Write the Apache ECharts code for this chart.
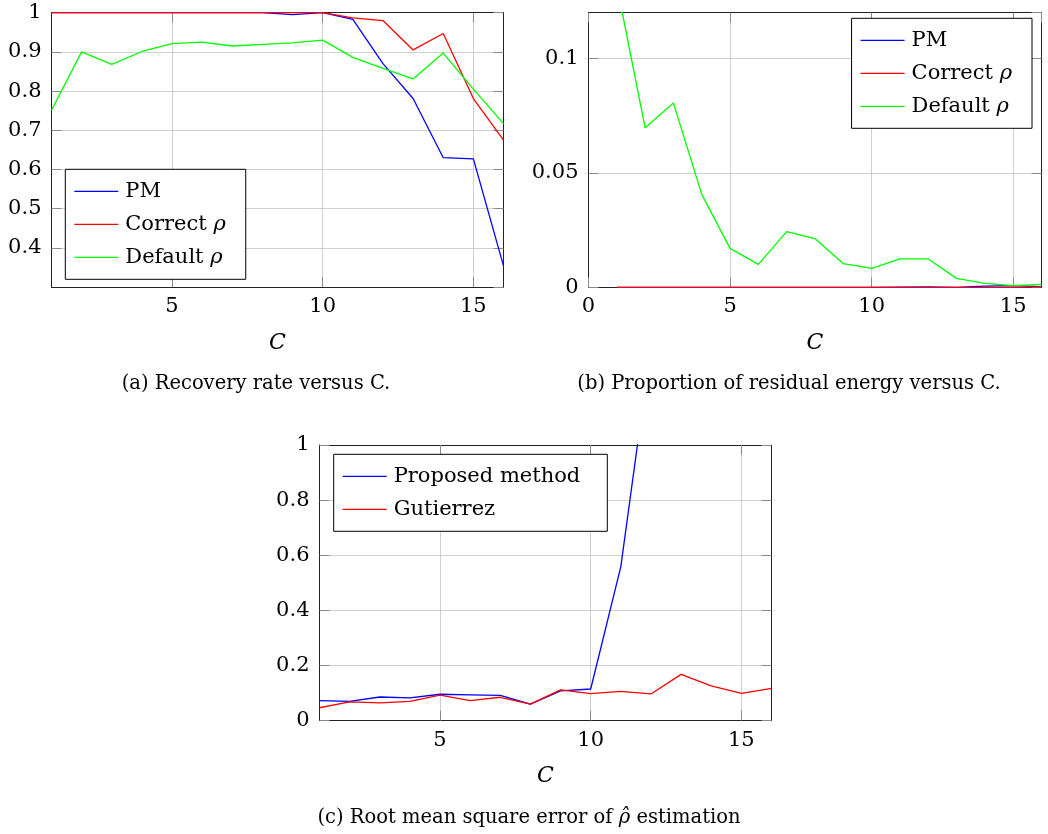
<!DOCTYPE html>
<html>
<head>
<meta charset="utf-8">
<style>
html,body{margin:0;padding:0;background:#fff;}
#main{width:1048px;height:834px;}
</style>
<script src="https://cdn.jsdelivr.net/npm/echarts@6/dist/echarts.min.js"></script>
</head>
<body>
<div id="main"></div>
<script>
// ---------- data ----------
const C = [1, 2, 3, 4, 5, 6, 7, 8, 9, 10, 11, 12, 13, 14, 15, 16];

// (a) Recovery rate versus C
const recPM      = [1, 1, 1, 1, 1, 1, 1, 1, 0.995, 1, 0.983, 0.87, 0.781, 0.630, 0.627, 0.354];
const recCorrect = [1, 1, 1, 1, 1, 1, 1, 1, 1, 1, 0.987, 0.980, 0.905, 0.947, 0.781, 0.675];
const recDefault = [0.751, 0.900, 0.868, 0.901, 0.921, 0.925, 0.915, 0.919, 0.923, 0.930, 0.886, 0.858, 0.831, 0.897, 0.805, 0.717];

// (b) Proportion of residual energy versus C
const resPM      = [0, 0, 0, 0, 0, 0, 0, 0, 0, 0, 0.0001, 0.0002, 0, 0.0005, 0.0007, 0.0003];
const resCorrect = [0, 0, 0, 0, 0, 0, 0, 0, 0, 0, 0, 0, 0, 0, 0, 0.0002];
const resDefault = [0.132, 0.0697, 0.0805, 0.0406, 0.0170, 0.0100, 0.0243, 0.0213, 0.0103, 0.0083, 0.0124, 0.0124, 0.0039, 0.0017, 0.0007, 0.0013];

// (c) RMSE of rho-hat estimation
const rmseProposed  = [0.073, 0.070, 0.086, 0.083, 0.096, 0.094, 0.092, 0.060, 0.108, 0.115, 0.559, 1.36];
const rmseGutierrez = [0.047, 0.068, 0.065, 0.070, 0.093, 0.073, 0.085, 0.060, 0.112, 0.098, 0.106, 0.097, 0.168, 0.126, 0.099, 0.117];

const xTicksA = [5, 10, 15];
const namesA = ['PM', 'Correct ρ', 'Default ρ'];
const namesC = ['Proposed method', 'Gutierrez'];
const captions = ['(a) Recovery rate versus C.', '(b) Proportion of residual energy versus C.', '(c) Root mean square error of {i|ρ̂} estimation'];

// ---------- style ----------
const FONT = 'DejaVu Serif';
const FS = 21;
const BLUE = '#0000ff', RED = '#ff0000', GREEN = '#00ff00';
const gridColor = '#cfcfcf';
const tickColor = '#8a8a8a';

const pairs = (xs, ys) => ys.map((v, i) => [xs[i], v]);

function xAxes(gridIndex, min, max, opts) {
  const base = {
    type: 'value', gridIndex, min, max,
    axisLine: {show: true, onZero: false, lineStyle: {color: '#222', width: 1}},
    axisTick: {show: true, inside: true, length: 10, lineStyle: {color: tickColor, width: 1}},
    splitLine: {show: false},
    axisLabel: {show: false}
  };
  const bottom = Object.assign({}, base, {
    position: 'bottom',
    name: 'C', nameLocation: 'middle', nameGap: 45,
    nameTextStyle: {fontFamily: FONT, fontSize: FS + 1, fontStyle: 'italic', color: '#000'},
    splitLine: {show: true, lineStyle: {color: gridColor, width: 1}},
    axisLabel: {show: true, margin: 9, fontFamily: FONT, fontSize: FS, color: '#000'}
  });
  const top = Object.assign({}, base, {position: 'top'});
  if (opts.custom) {
    bottom.axisTick = Object.assign({}, base.axisTick, {customValues: opts.custom});
    bottom.axisLabel.customValues = opts.custom;
    top.axisTick = Object.assign({}, base.axisTick, {customValues: opts.custom});
  } else {
    bottom.interval = opts.interval;
    top.interval = opts.interval;
    bottom.axisLabel.showMaxLabel = false;
  }
  return [bottom, top];
}

function yAxes(gridIndex, min, max, interval, showMin, showMax) {
  const base = {
    type: 'value', gridIndex, min, max, interval,
    axisLine: {show: true, onZero: false, lineStyle: {color: '#222', width: 1}},
    axisTick: {show: true, inside: true, length: 10, lineStyle: {color: tickColor, width: 1}},
    splitLine: {show: false},
    axisLabel: {show: false}
  };
  const left = Object.assign({}, base, {
    position: 'left',
    splitLine: {show: true, lineStyle: {color: gridColor, width: 1}},
    axisLabel: {show: true, margin: 10, fontFamily: FONT, fontSize: FS, color: '#000',
      showMinLabel: showMin, showMaxLabel: showMax,
      formatter: v => String(+v.toFixed(4))}
  });
  const right = Object.assign({}, base, {position: 'right'});
  return [left, right];
}

function line(name, xi, yi, data, color) {
  return {
    type: 'line', name, xAxisIndex: xi, yAxisIndex: yi, data,
    symbol: 'none', showSymbol: false, clip: true, animation: false,
    lineStyle: {color, width: 1.3}, itemStyle: {color}
  };
}

const legendBase = {
  orient: 'vertical', icon: 'path://M0,0 L44,0 L44,1.3 L0,1.3 Z',
  itemWidth: 44, itemHeight: 2, itemGap: 5,
  borderColor: '#000', borderWidth: 1, borderRadius: 0, backgroundColor: '#fff',
  selectedMode: false,
  textStyle: {fontFamily: FONT, fontSize: FS, color: '#000', lineHeight: 28, padding: [0, 0, 0, 2],
    rich: {i: {fontFamily: FONT, fontSize: FS, fontStyle: 'italic', lineHeight: 28}}},
  formatter: n => n.replace('ρ', '{i|ρ}')
};

const xa = xAxes(0, 1, 16, {custom: xTicksA});
const xb = xAxes(1, 0, 16, {interval: 5});
const xc = xAxes(2, 1, 16, {custom: xTicksA});
const ya = yAxes(0, 0.3, 1, 0.1, false, true);
const yb = yAxes(1, 0, 0.12, 0.05, true, false);
const yc = yAxes(2, 0, 1, 0.2, true, true);

const capFont = '19.5px "DejaVu Serif"';

const option = {
  animation: false,
  backgroundColor: '#fff',
  grid: [
    {left: 51.5, top: 12.7, width: 452, height: 274.3},
    {left: 588.5, top: 12.7, width: 453, height: 274.6},
    {left: 319.5, top: 445, width: 452, height: 275.7}
  ],
  xAxis: [...xa, ...xb, ...xc],
  yAxis: [...ya, ...yb, ...yc],
  legend: [
    Object.assign({}, legendBase, {data: namesA.map(n => ({name: n})), left: 65.3, top: 169.3, padding: [8, 20, 8, 9]}),
    Object.assign({}, legendBase, {data: namesA.map(n => ({name: n})), right: 16, top: 18.3, padding: [8, 20, 8, 9]}),
    Object.assign({}, legendBase, {data: namesC.map(n => ({name: n})), left: 333.7, top: 454.3, padding: [8, 27, 8, 9]})
  ],
  series: [
    line(namesA[0], 0, 0, pairs(C, recPM), BLUE),
    line(namesA[1], 0, 0, pairs(C, recCorrect), RED),
    line(namesA[2], 0, 0, pairs(C, recDefault), GREEN),
    line(namesA[0], 2, 2, pairs(C, resPM), BLUE),
    line(namesA[1], 2, 2, pairs(C, resCorrect), RED),
    line(namesA[2], 2, 2, pairs(C, resDefault), GREEN),
    line(namesC[0], 4, 4, pairs(C, rmseProposed), BLUE),
    line(namesC[1], 4, 4, pairs(C, rmseGutierrez), RED)
  ],
  graphic: [
    {type: 'text', x: 256, y: 384, style: {text: captions[0], font: capFont, fill: '#000', textAlign: 'center', textVerticalAlign: 'middle'}},
    {type: 'text', x: 789, y: 384, style: {text: captions[1], font: capFont, fill: '#000', textAlign: 'center', textVerticalAlign: 'middle'}},
    {type: 'text', x: 529, y: 818, style: {text: captions[2], font: capFont, fill: '#000', textAlign: 'center', textVerticalAlign: 'middle',
      rich: {i: {fontFamily: 'DejaVu Serif', fontSize: 19.5, fontStyle: 'italic'}}}}
  ]
};

const chart = echarts.init(document.getElementById('main'), null, {renderer: 'canvas'});
chart.setOption(option);
</script>
</body>
</html>
